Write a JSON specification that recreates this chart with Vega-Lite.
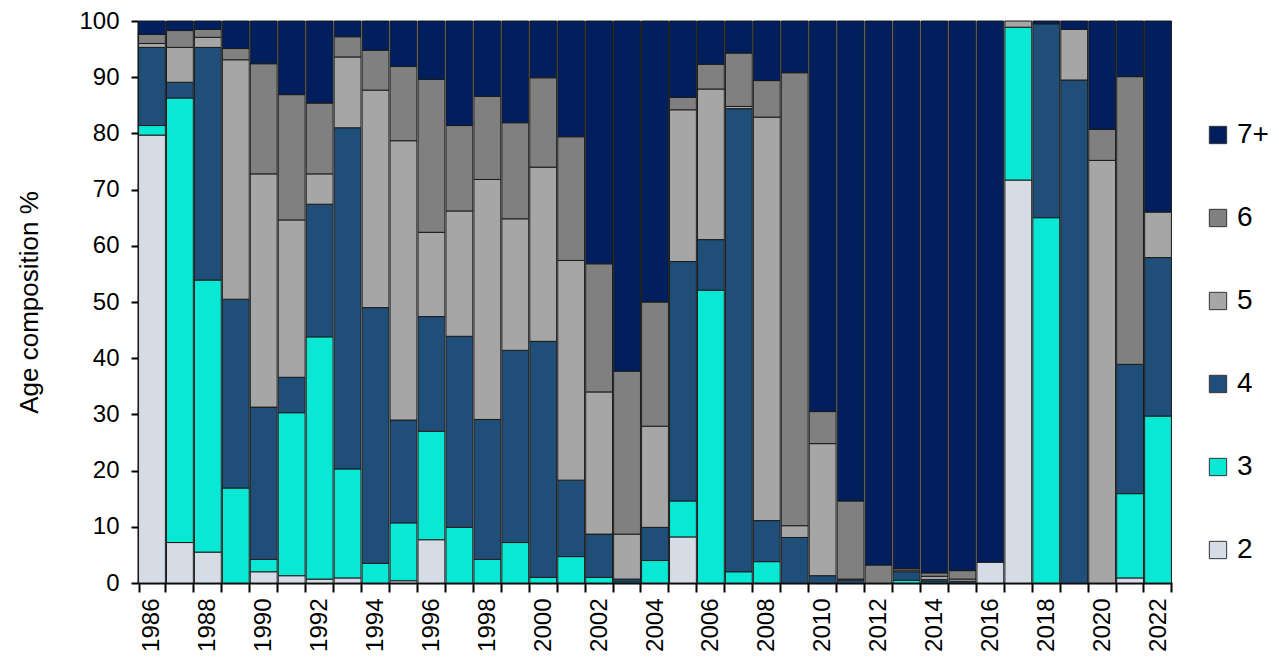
{
  "$schema": "https://vega.github.io/schema/vega-lite/v6.json",
  "autosize": {"type": "none"},
  "padding": {"left": 138, "top": 21, "right": 107, "bottom": 87},
  "width": 1034,
  "height": 562,
  "background": "white",
  "config": {
    "view": {"stroke": null},
    "font": "Liberation Sans"
  },
  "data": {
    "values": [
      {"year":1986,"age":"2","v":79.7},{"year":1986,"age":"3","v":1.7},{"year":1986,"age":"4","v":13.9},{"year":1986,"age":"5","v":0.7},{"year":1986,"age":"6","v":1.6},{"year":1986,"age":"7+","v":2.4},
      {"year":1987,"age":"2","v":7.2},{"year":1987,"age":"3","v":79.1},{"year":1987,"age":"4","v":2.8},{"year":1987,"age":"5","v":6.2},{"year":1987,"age":"6","v":3.0},{"year":1987,"age":"7+","v":1.7},
      {"year":1988,"age":"2","v":5.5},{"year":1988,"age":"3","v":48.4},{"year":1988,"age":"4","v":41.4},{"year":1988,"age":"5","v":1.8},{"year":1988,"age":"6","v":1.4},{"year":1988,"age":"7+","v":1.5},
      {"year":1989,"age":"3","v":16.9},{"year":1989,"age":"4","v":33.6},{"year":1989,"age":"5","v":42.6},{"year":1989,"age":"6","v":2.0},{"year":1989,"age":"7+","v":4.9},
      {"year":1990,"age":"2","v":2.0},{"year":1990,"age":"3","v":2.2},{"year":1990,"age":"4","v":27.1},{"year":1990,"age":"5","v":41.5},{"year":1990,"age":"6","v":19.6},{"year":1990,"age":"7+","v":7.6},
      {"year":1991,"age":"2","v":1.3},{"year":1991,"age":"3","v":29.0},{"year":1991,"age":"4","v":6.3},{"year":1991,"age":"5","v":28.0},{"year":1991,"age":"6","v":22.3},{"year":1991,"age":"7+","v":13.1},
      {"year":1992,"age":"2","v":0.7},{"year":1992,"age":"3","v":43.1},{"year":1992,"age":"4","v":23.6},{"year":1992,"age":"5","v":5.4},{"year":1992,"age":"6","v":12.6},{"year":1992,"age":"7+","v":14.6},
      {"year":1993,"age":"2","v":0.9},{"year":1993,"age":"3","v":19.4},{"year":1993,"age":"4","v":60.7},{"year":1993,"age":"5","v":12.6},{"year":1993,"age":"6","v":3.6},{"year":1993,"age":"7+","v":2.8},
      {"year":1994,"age":"3","v":3.5},{"year":1994,"age":"4","v":45.5},{"year":1994,"age":"5","v":38.7},{"year":1994,"age":"6","v":7.1},{"year":1994,"age":"7+","v":5.2},
      {"year":1995,"age":"2","v":0.4},{"year":1995,"age":"3","v":10.3},{"year":1995,"age":"4","v":18.3},{"year":1995,"age":"5","v":49.7},{"year":1995,"age":"6","v":13.2},{"year":1995,"age":"7+","v":8.1},
      {"year":1996,"age":"2","v":7.7},{"year":1996,"age":"3","v":19.3},{"year":1996,"age":"4","v":20.4},{"year":1996,"age":"5","v":15.0},{"year":1996,"age":"6","v":27.2},{"year":1996,"age":"7+","v":10.4},
      {"year":1997,"age":"3","v":9.9},{"year":1997,"age":"4","v":34.0},{"year":1997,"age":"5","v":22.3},{"year":1997,"age":"6","v":15.2},{"year":1997,"age":"7+","v":18.6},
      {"year":1998,"age":"3","v":4.2},{"year":1998,"age":"4","v":24.9},{"year":1998,"age":"5","v":42.7},{"year":1998,"age":"6","v":14.8},{"year":1998,"age":"7+","v":13.4},
      {"year":1999,"age":"3","v":7.2},{"year":1999,"age":"4","v":34.2},{"year":1999,"age":"5","v":23.4},{"year":1999,"age":"6","v":17.1},{"year":1999,"age":"7+","v":18.1},
      {"year":2000,"age":"3","v":1.0},{"year":2000,"age":"4","v":42.0},{"year":2000,"age":"5","v":31.0},{"year":2000,"age":"6","v":15.9},{"year":2000,"age":"7+","v":10.1},
      {"year":2001,"age":"3","v":4.7},{"year":2001,"age":"4","v":13.6},{"year":2001,"age":"5","v":39.1},{"year":2001,"age":"6","v":22.0},{"year":2001,"age":"7+","v":20.6},
      {"year":2002,"age":"3","v":1.0},{"year":2002,"age":"4","v":7.7},{"year":2002,"age":"5","v":25.3},{"year":2002,"age":"6","v":22.8},{"year":2002,"age":"7+","v":43.2},
      {"year":2003,"age":"3","v":0.2},{"year":2003,"age":"4","v":0.5},{"year":2003,"age":"5","v":8.0},{"year":2003,"age":"6","v":29.0},{"year":2003,"age":"7+","v":62.3},
      {"year":2004,"age":"3","v":4.0},{"year":2004,"age":"4","v":5.9},{"year":2004,"age":"5","v":18.0},{"year":2004,"age":"6","v":22.1},{"year":2004,"age":"7+","v":50.0},
      {"year":2005,"age":"2","v":8.2},{"year":2005,"age":"3","v":6.4},{"year":2005,"age":"4","v":42.6},{"year":2005,"age":"5","v":27.0},{"year":2005,"age":"6","v":2.2},{"year":2005,"age":"7+","v":13.6},
      {"year":2006,"age":"3","v":52.1},{"year":2006,"age":"4","v":9.0},{"year":2006,"age":"5","v":26.8},{"year":2006,"age":"6","v":4.4},{"year":2006,"age":"7+","v":7.7},
      {"year":2007,"age":"3","v":2.0},{"year":2007,"age":"4","v":82.4},{"year":2007,"age":"5","v":0.4},{"year":2007,"age":"6","v":9.5},{"year":2007,"age":"7+","v":5.7},
      {"year":2008,"age":"3","v":3.8},{"year":2008,"age":"4","v":7.3},{"year":2008,"age":"5","v":71.8},{"year":2008,"age":"6","v":6.5},{"year":2008,"age":"7+","v":10.6},
      {"year":2009,"age":"4","v":8.1},{"year":2009,"age":"5","v":2.1},{"year":2009,"age":"6","v":80.6},{"year":2009,"age":"7+","v":9.2},
      {"year":2010,"age":"4","v":1.3},{"year":2010,"age":"5","v":23.5},{"year":2010,"age":"6","v":5.7},{"year":2010,"age":"7+","v":69.5},
      {"year":2011,"age":"4","v":0.5},{"year":2011,"age":"5","v":0.2},{"year":2011,"age":"6","v":13.9},{"year":2011,"age":"7+","v":85.4},
      {"year":2012,"age":"6","v":3.2},{"year":2012,"age":"7+","v":96.8},
      {"year":2013,"age":"3","v":0.5},{"year":2013,"age":"4","v":1.5},{"year":2013,"age":"5","v":0.3},{"year":2013,"age":"6","v":0.3},{"year":2013,"age":"7+","v":97.4},
      {"year":2014,"age":"3","v":0.2},{"year":2014,"age":"4","v":0.4},{"year":2014,"age":"5","v":0.6},{"year":2014,"age":"6","v":0.6},{"year":2014,"age":"7+","v":98.2},
      {"year":2015,"age":"4","v":0.3},{"year":2015,"age":"5","v":0.4},{"year":2015,"age":"6","v":1.5},{"year":2015,"age":"7+","v":97.8},
      {"year":2016,"age":"2","v":3.7},{"year":2016,"age":"7+","v":96.3},
      {"year":2017,"age":"2","v":71.7},{"year":2017,"age":"3","v":27.2},{"year":2017,"age":"5","v":1.1},
      {"year":2018,"age":"3","v":65.0},{"year":2018,"age":"4","v":34.5},{"year":2018,"age":"7+","v":0.5},
      {"year":2019,"age":"4","v":89.5},{"year":2019,"age":"5","v":9.0},{"year":2019,"age":"7+","v":1.5},
      {"year":2020,"age":"5","v":75.2},{"year":2020,"age":"6","v":5.5},{"year":2020,"age":"7+","v":19.3},
      {"year":2021,"age":"2","v":0.9},{"year":2021,"age":"3","v":15.0},{"year":2021,"age":"4","v":23.0},{"year":2021,"age":"6","v":51.2},{"year":2021,"age":"7+","v":9.9},
      {"year":2022,"age":"3","v":29.7},{"year":2022,"age":"4","v":28.2},{"year":2022,"age":"5","v":8.1},{"year":2022,"age":"7+","v":34.0}
    ]
  },
  "mark": {"type": "bar", "stroke": "#1a1a1a", "strokeWidth": 1},
  "encoding": {
    "x": {
      "field": "year", "type": "ordinal",
      "scale": {"paddingInner": 0.04, "paddingOuter": 0.02},
      "axis": {
        "title": null,
        "tickBand": "extent",
        "labelAngle": 270,
        "labelAlign": "right",
        "labelBaseline": "middle",
        "labelFontSize": 24,
        "labelColor": "black",
        "labelPadding": 6,
        "labelExpr": "parseInt(datum.value) % 2 == 0 ? datum.label : ''",
        "tickSize": 9,
        "tickWidth": 2,
        "tickColor": "black",
        "domainColor": "black",
        "domainWidth": 2,
        "grid": false
      }
    },
    "y": {
      "field": "v", "type": "quantitative", "stack": "zero",
      "scale": {"domain": [0, 100], "nice": false},
      "axis": {
        "title": "Age composition %",
        "titleFontSize": 26,
        "titleFontWeight": "normal",
        "titleColor": "black",
        "titlePadding": 36,
        "values": [0,10,20,30,40,50,60,70,80,90,100],
        "labelFontSize": 24,
        "labelColor": "black",
        "labelPadding": 12,
        "tickSize": 7,
        "tickWidth": 2,
        "tickColor": "black",
        "domainColor": "black",
        "domainWidth": 2,
        "grid": false
      }
    },
    "color": {
      "field": "age", "type": "nominal",
      "scale": {
        "domain": ["7+","6","5","4","3","2"],
        "range": ["#001F5C","#808080","#A6A6A6","#1F4E79","#08E8D4","#D6DCE5"]
      },
      "legend": {
        "title": null,
        "orient": "none",
        "legendX": 1066,
        "legendY": 100,
        "symbolType": "square",
        "symbolSize": 300,
        "symbolStrokeColor": "#333333",
        "symbolStrokeWidth": 1,
        "labelFontSize": 28,
        "labelColor": "black",
        "labelOffset": 5,
        "rowPadding": 55
      }
    },
    "order": {"field": "age", "type": "ordinal", "sort": "ascending"}
  }
}
